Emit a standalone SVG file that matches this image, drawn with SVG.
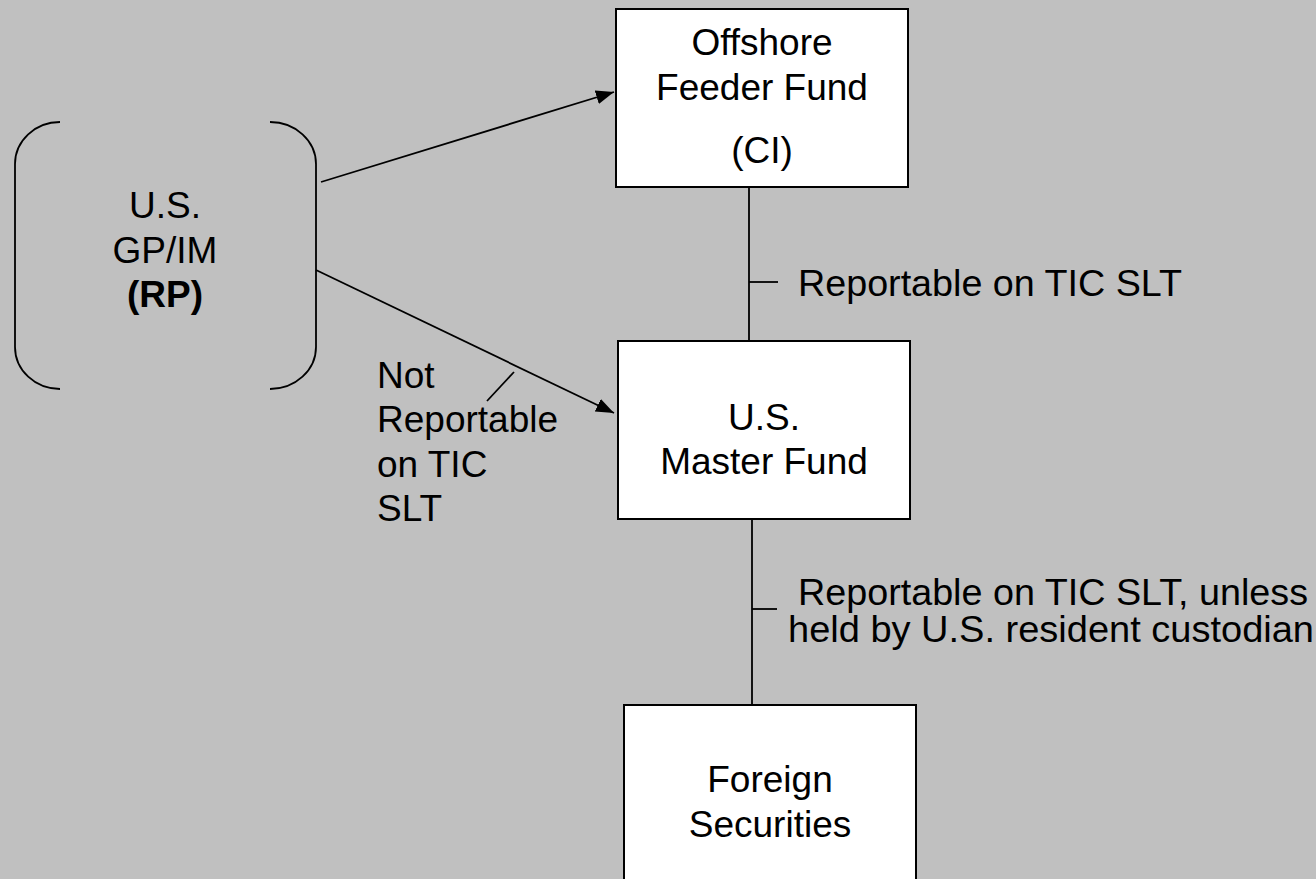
<svg xmlns="http://www.w3.org/2000/svg" width="1316" height="879" viewBox="0 0 1316 879">
<style>
text{font-family:"Liberation Sans",Arial,Helvetica,sans-serif;font-size:37px;fill:#000}
.c{text-anchor:middle}
.b{font-weight:bold}
.box{fill:#fff;stroke:#000;stroke-width:2}
.ln{fill:none;stroke:#000;stroke-width:1.8}
</style>
<defs>
<marker id="ah" markerUnits="userSpaceOnUse" markerWidth="20" markerHeight="16" refX="18" refY="7" orient="auto">
<path d="M0,0 L18,7 L0,14 z" fill="#000"/>
</marker>
</defs>
<rect width="1316" height="879" fill="#c0c0c0"/>
<g id="connectors">
<line class="ln" x1="321" y1="182" x2="614" y2="92" marker-end="url(#ah)"/>
<line class="ln" x1="316" y1="270" x2="614" y2="413" marker-end="url(#ah)"/>
<line class="ln" x1="487" y1="401" x2="514" y2="372"/>
<line class="ln" x1="749" y1="187" x2="749" y2="341"/>
<line class="ln" x1="749" y1="282" x2="778" y2="282"/>
<line class="ln" x1="752" y1="519" x2="752" y2="705"/>
<line class="ln" x1="752" y1="609" x2="777" y2="609"/>
</g>
<g id="gp">
<path class="ln" d="M60,122 A45,42 0 0 0 15,164 L15,347 A45,42 0 0 0 60,389"/>
<path class="ln" d="M270,122 A46,42 0 0 1 316,164 L316,347 A46,42 0 0 1 270,389"/>
<text class="c" x="165" y="218">U.S.</text>
<text class="c" x="165" y="263">GP/IM</text>
<text class="c b" x="165" y="307">(RP)</text>
</g>
<g id="offshore">
<rect class="box" x="616" y="9" width="292" height="178"/>
<text class="c" x="762" y="55">Offshore</text>
<text class="c" x="762" y="100">Feeder Fund</text>
<text class="c" x="762" y="163">(CI)</text>
</g>
<g id="master">
<rect class="box" x="618" y="341" width="292" height="178"/>
<text class="c" x="764" y="430">U.S.</text>
<text class="c" x="764" y="474">Master Fund</text>
</g>
<g id="foreign">
<rect class="box" x="624" y="705" width="292" height="200"/>
<text class="c" x="770" y="792">Foreign</text>
<text class="c" x="770" y="837">Securities</text>
</g>
<g id="labels">
<text x="377" y="388">Not</text>
<text x="377" y="432">Reportable</text>
<text x="377" y="477">on TIC</text>
<text x="377" y="521">SLT</text>
<text x="798" y="296" textLength="384" lengthAdjust="spacingAndGlyphs">Reportable on TIC SLT</text>
<text x="798" y="605" textLength="510" lengthAdjust="spacingAndGlyphs">Reportable on TIC SLT, unless</text>
<text x="788" y="642" textLength="526" lengthAdjust="spacingAndGlyphs">held by U.S. resident custodian</text>
</g>
</svg>
